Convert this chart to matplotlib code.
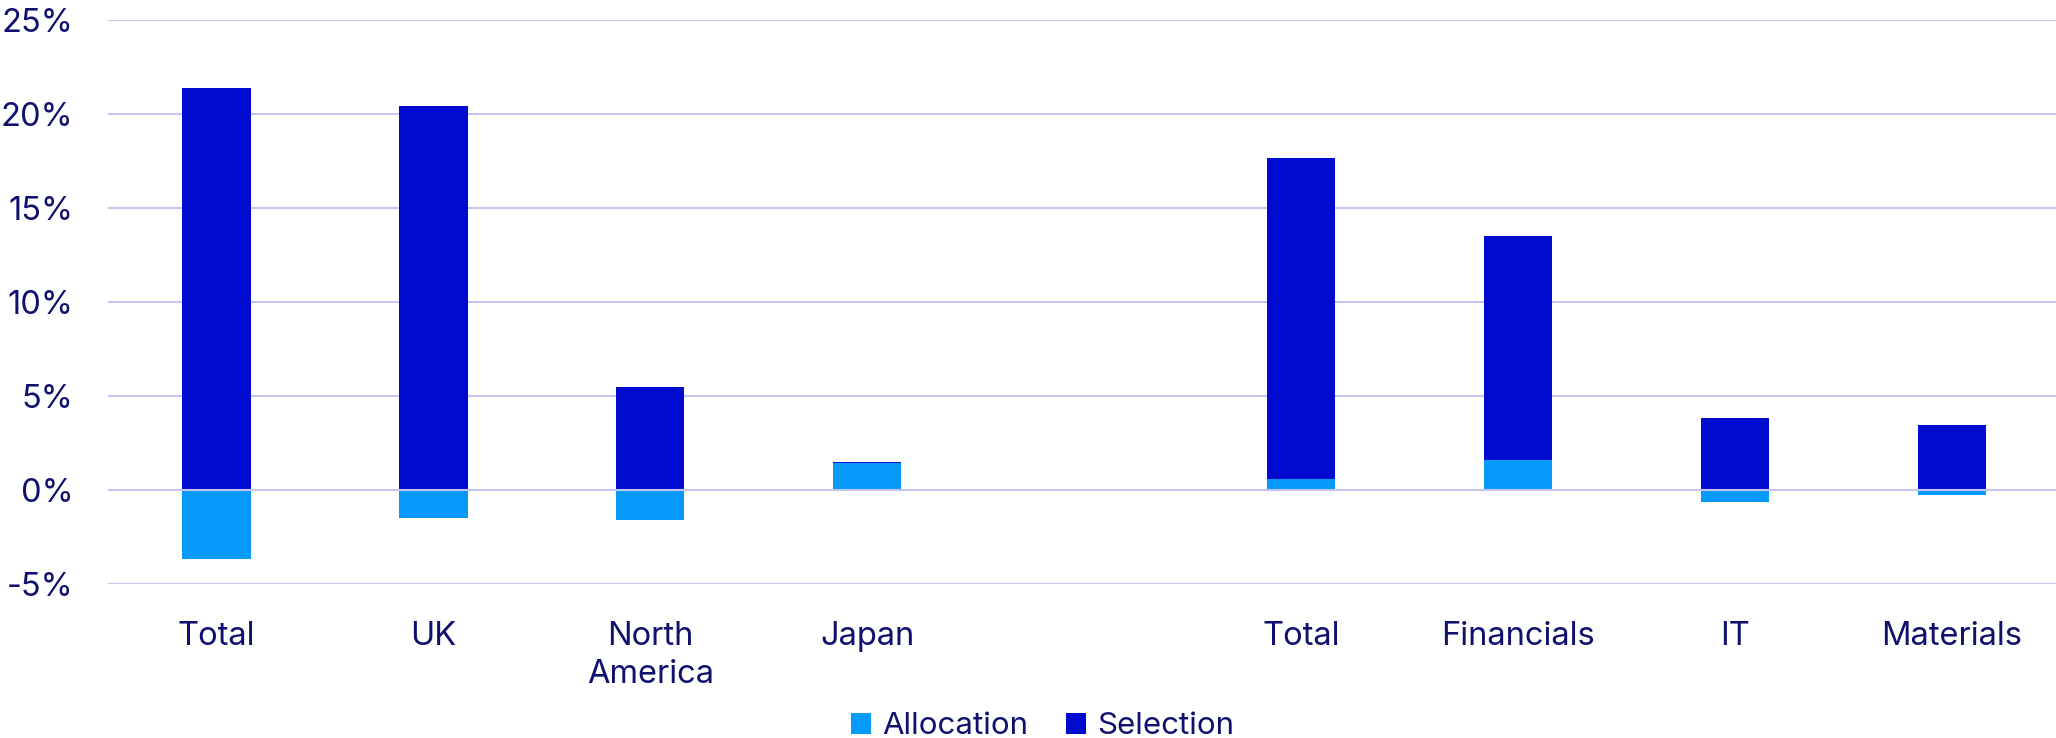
import matplotlib.pyplot as plt
import numpy as np

categories = ['Total', 'UK', 'North\nAmerica', 'Japan', '', 'Total', 'Financials', 'IT', 'Materials']
allocation = [-3.7, -1.5, -1.6, 1.45, 0.0, 0.55, 1.6, -0.65, -0.3]
selection = [21.4, 20.4, 5.45, 0.05, 0.0, 17.1, 11.9, 3.8, 3.45]
yticks = [-5, 0, 5, 10, 15, 20, 25]

navy = '#10106e'
c_alloc = '#0599fa'
c_sel = '#000bd0'
grid_c = '#c4c4f5'

plt.rcParams['font.family'] = ['Inter', 'DejaVu Sans']

fig = plt.figure(figsize=(20.56, 7.38), dpi=100)
ax = fig.add_axes([0.0525, 0.209, 0.9475, 0.764])

x = np.arange(len(categories))
alloc = np.array(allocation)
sel = np.array(selection)
sel_bottom = np.maximum(alloc, 0)

ax.bar(x, alloc, width=0.315, color=c_alloc, label='Allocation', zorder=2)
ax.bar(x, sel, width=0.315, bottom=sel_bottom, color=c_sel, label='Selection', zorder=2)

ax.set_xlim(-0.5, 8.48)
ax.set_ylim(-5, 25)
ax.set_yticks(yticks)
ax.set_yticklabels([f'{v}%' for v in yticks])
ax.set_xticks(x)
ax.set_xticklabels(categories, linespacing=1.3)

for y in yticks:
    ax.axhline(y, color=grid_c, linewidth=1.5, zorder=1 if y != 0 else 3)

for s in ax.spines.values():
    s.set_visible(False)
ax.tick_params(axis='both', length=0, colors=navy, labelsize=23.5)
ax.tick_params(axis='y', pad=25)
ax.tick_params(axis='x', pad=27)

fig.legend(loc='center', bbox_to_anchor=(0.507, 0.016), ncol=2, frameon=False,
           fontsize=22.5, labelcolor=navy, handlelength=0.65, handleheight=0.65,
           handletextpad=0.35, columnspacing=1.2, borderpad=0)

fig.savefig('out.png', dpi=100)
